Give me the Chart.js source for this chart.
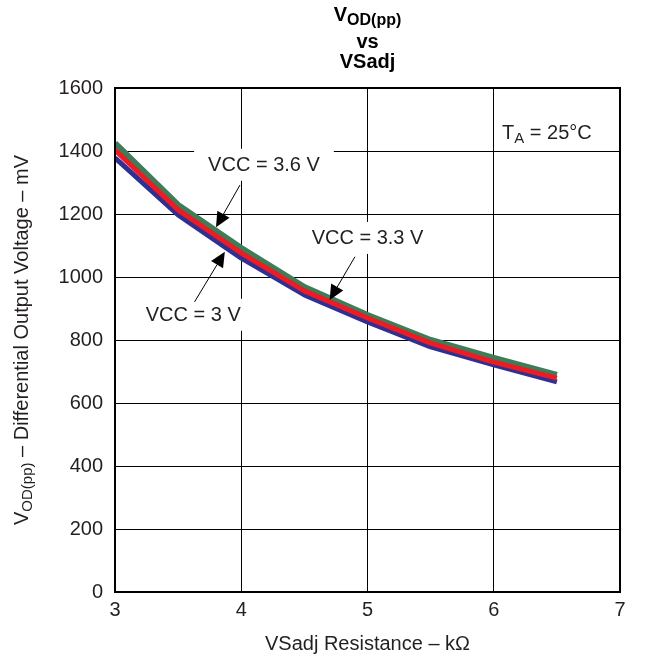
<!DOCTYPE html>
<html>
<head>
<meta charset="utf-8">
<script src="https://cdn.jsdelivr.net/npm/chart.js@4"></script>
<style>
  html, body { margin: 0; padding: 0; background: #ffffff; }
  #wrap { width: 660px; height: 660px; }
</style>
</head>
<body>
<div id="wrap"><canvas id="chart-vod" width="660" height="660"></canvas></div>
<script>
// values
const resistance = [3, 3.5, 4, 4.5, 5, 5.5, 6, 6.5];
const vcc36 = [1425, 1229, 1092, 968, 879, 800, 743, 689];
const vcc33 = [1403, 1213, 1076, 956, 870, 790, 730, 679];
const vcc30 = [1378, 1197, 1060, 943, 857, 778, 721, 667];
const xTicks = [3, 4, 5, 6, 7];
const yTicks = [0, 200, 400, 600, 800, 1000, 1200, 1400, 1600];

const FONT = "'Liberation Sans', Arial, sans-serif";
const TEXT = "#231f20";

// callouts: label centre and arrow (from -> tip), in data units
const CALLOUTS = [
	{ text: "VCC = 3.6 V", x: 4.18, y: 1356, from: [3.99, 1292], tip: [3.80, 1158] },
	{ text: "VCC = 3.3 V", x: 5.0, y: 1124, from: [4.90, 1064], tip: [4.70, 927] },
	{ text: "VCC = 3 V", x: 3.62, y: 880, from: [3.63, 921], tip: [3.87, 1080] },
];

const toPoints = (ys) => resistance.map((r, i) => ({ x: r, y: ys[i] }));

const drawArrow = (ctx, x0, y0, x1, y1) => {
	const ang = Math.atan2(y1 - y0, x1 - x0);
	const len = 15, half = 7;
	const bx = x1 - len * Math.cos(ang), by = y1 - len * Math.sin(ang);
	ctx.beginPath();
	ctx.moveTo(x0, y0);
	ctx.lineTo(bx, by);
	ctx.lineWidth = 1;
	ctx.strokeStyle = "#000";
	ctx.stroke();
	ctx.beginPath();
	ctx.moveTo(x1, y1);
	ctx.lineTo(bx + half * Math.sin(ang), by - half * Math.cos(ang));
	ctx.lineTo(bx - half * Math.sin(ang), by + half * Math.cos(ang));
	ctx.closePath();
	ctx.fillStyle = "#000";
	ctx.fill();
};

// text with a subscript, returns total width
const subText = (ctx, parts, x, y, draw) => {
	let w = 0;
	parts.forEach((p) => {
		ctx.font = p.font;
		if (draw) ctx.fillText(p.t, x + w, y + (p.dy || 0));
		w += ctx.measureText(p.t).width;
	});
	return w;
};

const decorations = {
	id: "decorations",
	afterDatasetsDraw(chart) {
		const { ctx, chartArea: a, scales: { x, y } } = chart;
		ctx.save();

		// callout labels with white boxes
		ctx.textBaseline = "middle";
		CALLOUTS.forEach((c) => {
			const cx = x.getPixelForValue(c.x), cy = y.getPixelForValue(c.y);
			ctx.font = "20px " + FONT;
			const w = ctx.measureText(c.text).width;
			ctx.fillStyle = "#fff";
			ctx.fillRect(cx - w / 2 - 14, cy - 16, w + 28, 32);
			ctx.fillStyle = TEXT;
			ctx.textAlign = "center";
			ctx.fillText(c.text, cx, cy + 1);
			drawArrow(ctx, x.getPixelForValue(c.from[0]), y.getPixelForValue(c.from[1]),
				x.getPixelForValue(c.tip[0]), y.getPixelForValue(c.tip[1]));
		});

		// T_A = 25°C
		ctx.textAlign = "left";
		const taParts = [
			{ t: "T", font: "20px " + FONT },
			{ t: "A", font: "15px " + FONT, dy: 6 },
			{ t: " = 25°C", font: "20px " + FONT },
		];
		const tx = 502, ty = 132;
		const tw = subText(ctx, taParts, tx, ty, false);
		ctx.fillStyle = "#fff";
		ctx.fillRect(tx - 8, ty - 16, tw + 16, 32);
		ctx.fillStyle = TEXT;
		subText(ctx, taParts, tx, ty + 1, true);

		// plot frame
		ctx.lineWidth = 2;
		ctx.strokeStyle = "#000";
		ctx.strokeRect(a.left, a.top, a.right - a.left, a.bottom - a.top);
		ctx.restore();
	},
	afterDraw(chart) {
		const { ctx, chartArea: a } = chart;
		const mid = (a.left + a.right) / 2;
		ctx.save();
		ctx.fillStyle = "#000";
		ctx.textBaseline = "middle";

		// title
		const t1 = [
			{ t: "V", font: "bold 20px " + FONT },
			{ t: "OD(pp)", font: "bold 16px " + FONT, dy: 6 },
		];
		ctx.textAlign = "left";
		const w1 = subText(ctx, t1, 0, 0, false);
		subText(ctx, t1, mid - w1 / 2, 15, true);
		ctx.textAlign = "center";
		ctx.font = "bold 20px " + FONT;
		ctx.fillText("vs", mid, 42);
		ctx.fillText("VSadj", mid, 62);

		// y-axis title, rotated
		ctx.fillStyle = TEXT;
		const yt = [
			{ t: "V", font: "20px " + FONT },
			{ t: "OD(pp)", font: "15px " + FONT, dy: 6 },
			{ t: " – Differential Output Voltage – mV", font: "20px " + FONT },
		];
		ctx.textAlign = "left";
		const wy = subText(ctx, yt, 0, 0, false);
		ctx.translate(22, (a.top + a.bottom) / 2);
		ctx.rotate(-Math.PI / 2);
		subText(ctx, yt, -wy / 2, 0, true);
		ctx.restore();
	},
};

const DATA = {
	datasets: [
		{ label: "VCC = 3.6 V", data: toPoints(vcc36), borderColor: "#3e7d57", borderWidth: 6, order: 3 },
		{ label: "VCC = 3 V", data: toPoints(vcc30), borderColor: "#2e3192", borderWidth: 5, order: 2 },
		{ label: "VCC = 3.3 V", data: toPoints(vcc33), borderColor: "#ed1c24", borderWidth: 5, order: 1 },
	],
};

const CONFIG = {
	type: "line",
	data: DATA,
	options: {
		responsive: false,
		animation: false,
		devicePixelRatio: 1,
		layout: { padding: { top: 88, right: 40, left: 0, bottom: 0 } },
		elements: { point: { radius: 0 }, line: { tension: 0, borderJoinStyle: "round", borderCapStyle: "butt" } },
		plugins: { legend: { display: false }, tooltip: { enabled: false }, title: { display: false } },
		scales: {
			x: {
				type: "linear",
				min: 3,
				max: 7,
				afterFit: (s) => { s.height = 68; },
				afterBuildTicks: (s) => { s.ticks = xTicks.map((v) => ({ value: v })); },
				ticks: { color: TEXT, font: { family: FONT, size: 20 }, padding: 6, callback: (v) => String(v) },
				grid: { color: "#000", lineWidth: 1, drawTicks: false },
				border: { display: false },
				title: {
					display: true,
					text: "VSadj Resistance – kΩ",
					color: TEXT,
					font: { family: FONT, size: 20 },
					padding: { top: 6 },
				},
			},
			y: {
				min: 0,
				max: 1600,
				afterFit: (s) => { s.width = 115; },
				afterBuildTicks: (s) => { s.ticks = yTicks.map((v) => ({ value: v })); },
				ticks: { color: TEXT, font: { family: FONT, size: 20 }, padding: 12, callback: (v) => String(v) },
				grid: { color: "#000", lineWidth: 1, drawTicks: false },
				border: { display: false },
			},
		},
	},
	plugins: [decorations],
};

new Chart(document.getElementById("chart-vod"), CONFIG);
</script>
</body>
</html>
